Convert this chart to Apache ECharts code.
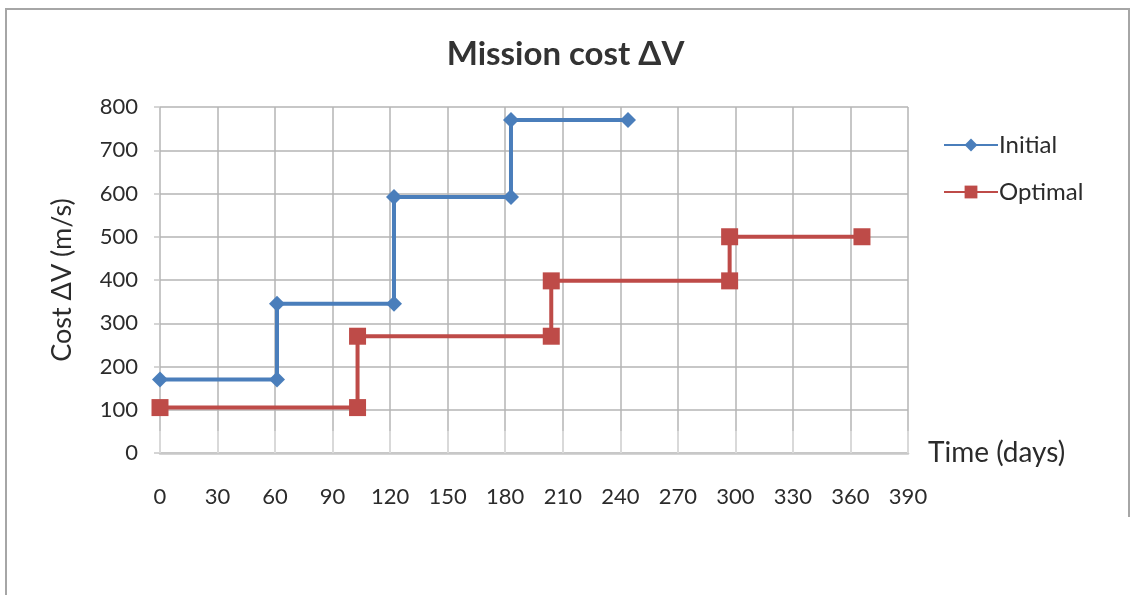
<!DOCTYPE html>
<html>
<head>
<meta charset="utf-8">
<script src="https://cdn.jsdelivr.net/npm/echarts@6/dist/echarts.min.js"></script>
<style>
html,body{margin:0;padding:0;background:#fff;}
#chart{width:1131px;height:595px;}
</style>
</head>
<body>
<div id="chart"></div>
<script>
const titleText = 'Mission cost \u0394V';
const xAxisName = 'Time (days)';
const yAxisName = 'Cost \u0394V (m/s)';
const seriesNames = ['Initial', 'Optimal'];
const initialDays = [0, 61, 61, 122, 122, 183, 183, 244];
const initialCost = [170, 170, 345, 345, 592, 592, 770, 770];
const optimalDays = [0, 103, 103, 204, 204, 297, 297, 366];
const optimalCost = [105, 105, 270, 270, 398, 398, 500, 500];

const font = 'Lato, "Open Sans", sans-serif';
const textColor = '#2b2b2b';
const pair = (xs, ys) => xs.map((x, i) => [x, ys[i]]);

const chart = echarts.init(document.getElementById('chart'));
chart.setOption({
  animation: false,
  backgroundColor: '#fff',
  textStyle: { fontFamily: font },
  graphic: [
    { type: 'polyline', shape: { points: [[6, 595], [6, 9], [1129, 9], [1129, 517]] },
      style: { stroke: '#a6a6a6', lineWidth: 2, fill: null } }
  ],
  title: {
    text: titleText, left: 'center', top: 33,
    textStyle: { fontFamily: font, fontSize: 33, fontWeight: 'bold', color: '#333' }
  },
  legend: {
    orient: 'vertical', left: 938, top: 128, itemGap: 23,
    itemWidth: 54, itemHeight: 16,
    textStyle: { fontFamily: font, fontSize: 24, color: textColor, padding: [0, 0, 0, -4] },
    data: seriesNames
  },
  grid: { left: 160, right: 223, top: 107, bottom: 142 },
  xAxis: {
    type: 'value', min: 0, max: 390, interval: 30,
    name: xAxisName, nameLocation: 'end', nameGap: 20,
    nameTextStyle: { fontFamily: font, fontSize: 28, color: textColor, verticalAlign: 'middle' },
    axisLine: { show: true, lineStyle: { color: '#c8c8c8', width: 2.5 } },
    axisTick: { show: true, inside: true, length: 22, lineStyle: { color: '#d9d9d9', width: 2 } },
    axisLabel: { margin: 33, fontFamily: font, fontSize: 22, color: textColor },
    splitLine: { show: true, lineStyle: { color: '#b5b5b5', width: 1.5 } }
  },
  yAxis: {
    type: 'value', min: 0, max: 800, interval: 100,
    name: yAxisName, nameLocation: 'middle', nameGap: 84, nameRotate: 90,
    nameTextStyle: { fontFamily: font, fontSize: 27, color: textColor },
    axisLine: { show: false },
    axisTick: { show: true, length: 6, lineStyle: { color: '#c8c8c8', width: 1.5 } },
    axisLabel: { margin: 22, fontFamily: font, fontSize: 22, color: textColor },
    splitLine: { show: true, lineStyle: { color: '#b5b5b5', width: 1.5 } }
  },
  series: [
    {
      name: seriesNames[0], type: 'line', data: pair(initialDays, initialCost),
      symbol: 'diamond', symbolSize: 16,
      lineStyle: { color: '#4A7EBB', width: 4 },
      itemStyle: { color: '#4A7EBB' }
    },
    {
      name: seriesNames[1], type: 'line', data: pair(optimalDays, optimalCost),
      symbol: 'rect', symbolSize: 17,
      lineStyle: { color: '#BE4B48', width: 4 },
      itemStyle: { color: '#BE4B48' }
    }
  ]
});
</script>
</body>
</html>
